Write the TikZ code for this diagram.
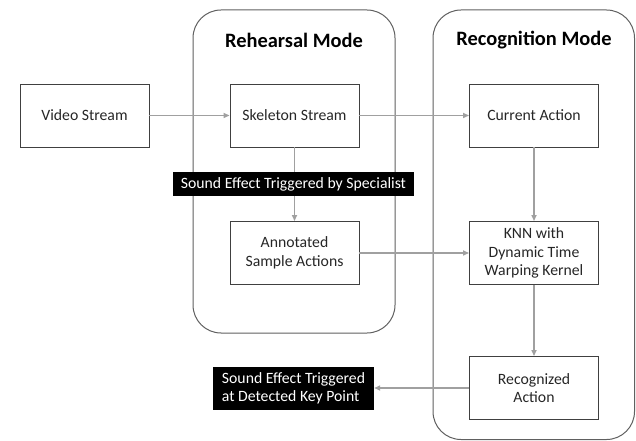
\documentclass[tikz,border=0pt]{standalone}
\usepackage{fontspec}
\setmainfont{Carlito}
\usetikzlibrary{arrows.meta}
\definecolor{arrowgray}{HTML}{A0A0A0}
\definecolor{boxgray}{HTML}{404040}
\definecolor{framegray}{HTML}{606060}
\definecolor{textgray}{HTML}{262626}
\begin{document}
\begin{tikzpicture}[x=1bp,y=-1bp,
  container/.style={draw=framegray,line width=1bp,rounded corners=28bp},
  stepbox/.style={draw=boxgray,line width=0.9bp,minimum width=129bp,minimum height=63bp,
    inner sep=0pt,align=center,text=textgray,font=\fontsize{15.8}{18.5}\selectfont},
  blacklabel/.style={fill=black,text=white,inner sep=0pt,font=\fontsize{15.8}{18}\selectfont},
  title/.style={font=\bfseries\fontsize{20.5}{24}\selectfont,text=black},
  flow/.style={draw=arrowgray,line width=1.5bp,-{Triangle[length=6bp,width=5bp]}}]
\useasboundingbox (0,0) rectangle (636,441);
\draw[container] (193,10) rectangle (395,333);
\draw[container] (433,10) rectangle (634.5,439.5);
\node[title] (t1) at (294,40) {Rehearsal Mode};
\node[title] (t2) at (534,40) {Recognition Mode};
\node[stepbox] (vs) at (84.5,115.5) {Video Stream};
\node[stepbox] (ss) at (294.5,115.5) {Skeleton Stream};
\node[stepbox] (ca) at (534,115.5) {Current Action};
\node[stepbox] (as) at (294.5,253) {Annotated\\Sample Actions};
\node[stepbox] (knn) at (534,253) {KNN with\\Dynamic Time\\Warping Kernel};
\node[stepbox] (ra) at (534,388) {Recognized\\Action};
\node[blacklabel,minimum width=161bp,minimum height=43bp,align=left] (l2) at (293.5,388)
  {Sound Effect Triggered\\at Detected Key Point};
\draw[flow] (vs) -- (ss);
\draw[flow] (ss) -- (ca);
\draw[flow] (ss) -- (as);
\draw[flow] (ca) -- (knn);
\draw[flow] (as) -- (knn);
\draw[flow] (knn) -- (ra);
\draw[flow] (ra) -- (l2);
\node[blacklabel,minimum width=241bp,minimum height=24bp] (l1) at (293.5,184)
  {Sound Effect Triggered by Specialist};
\end{tikzpicture}
\end{document}
